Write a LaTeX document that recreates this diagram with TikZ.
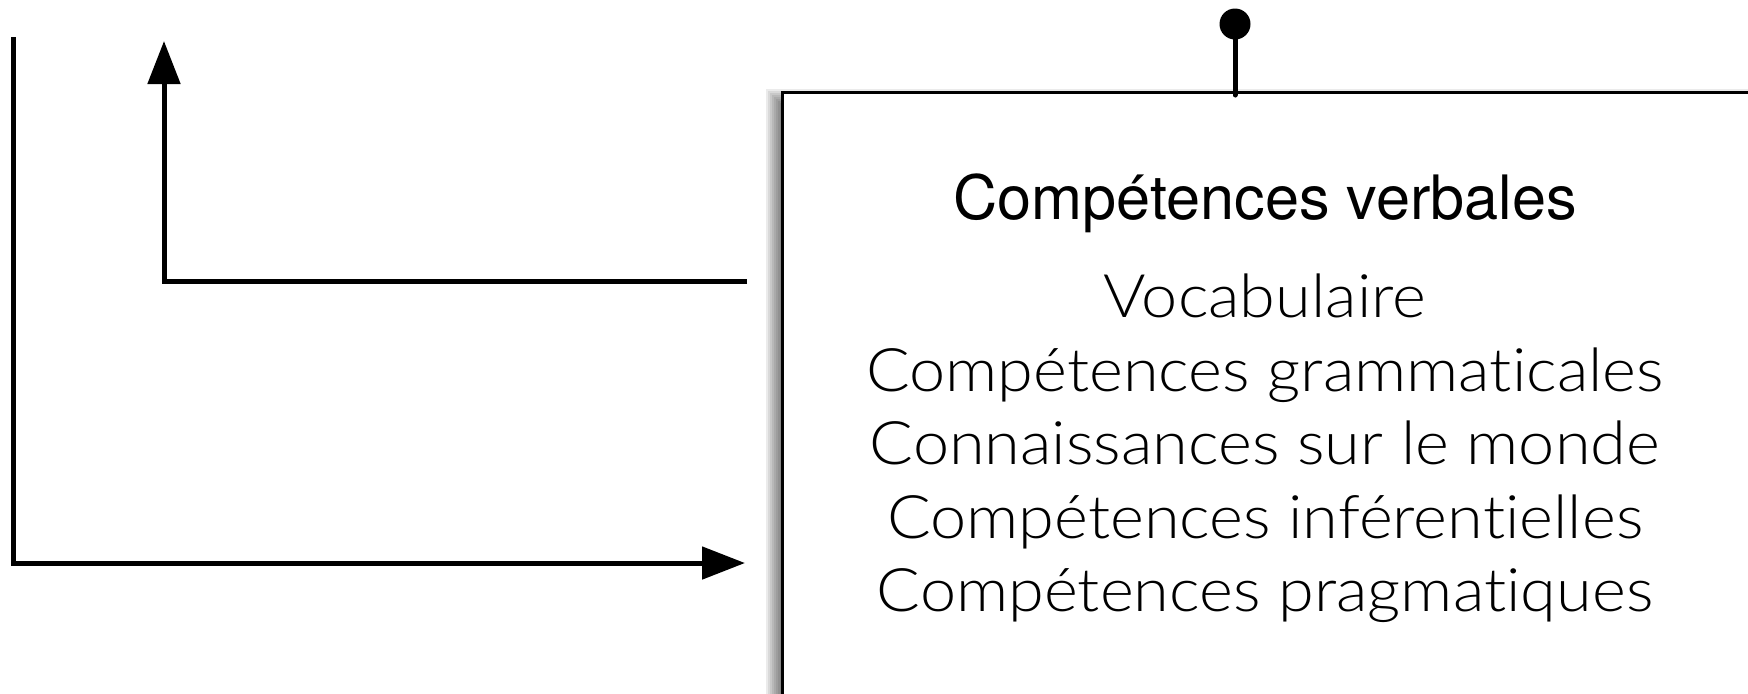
\documentclass[tikz,border=0pt]{standalone}
\usepackage{fontspec}
\setmainfont{TeX Gyre Heros}
\newfontfamily\lightfont{Lato-Light.ttf}[Ligatures={NoCommon,NoRequired,NoContextual},FakeStretch=1.08]
\usetikzlibrary{arrows.meta}
\begin{document}
\begin{tikzpicture}[x=0.5pt,y=-0.5pt,
  axisline/.style={line width=2.5pt},
  bigtip/.style={-{Triangle[length=21.5pt,width=16pt]}},
  cardbox/.style={draw=black,line width=1.5pt,fill=white},
  titletext/.style={anchor=base,inner sep=0pt,font=\fontsize{30.6}{36}\selectfont},
  itemtext/.style={anchor=base,inner sep=0pt,font=\lightfont\fontsize{30}{36}\selectfont},
  pinhead/.style={circle,fill=black,inner sep=0pt,minimum size=15.5pt}]
\useasboundingbox (0,0) rectangle (1748,693);

% soft shadow behind the card
\foreach \e in {-7,-5,...,7}
  \fill[black,opacity=0.08] (773-\e,96-\e) rectangle (1800,760);

% the card
\node[cardbox,anchor=north west,minimum width=1100*0.5pt,minimum height=700*0.5pt,inner sep=0pt] (card) at (781,91) {};

% pin holding the card
\node[pinhead] (pin) at (1235,24) {};
\coordinate (pinfoot) at (1235,95);
\draw[line width=2.5pt,line cap=round] (pin.center) -- (pinfoot);

% axes
\coordinate (ytop) at (13,37);
\coordinate (origin) at (13,563);
\coordinate (xend) at (745,563);
\draw[axisline,bigtip] (ytop) -- (origin) -- (xend);

\coordinate (hstart) at (747,281);
\coordinate (elbow) at (164,281);
\coordinate (uptip) at (164,41);
\draw[axisline,bigtip] (hstart) -- (elbow) -- (uptip);

% text of the card
\node[titletext] (title) at (1265,219) {Compétences verbales};
\node[itemtext] (i1) at (1265,317) {Vocabulaire};
\node[itemtext] (i2) at (1265,391) {Compétences grammaticales};
\node[itemtext] (i3) at (1265,464) {Connaissances sur le monde};
\node[itemtext] (i4) at (1265,538) {Compétences inférentielles};
\node[itemtext] (i5) at (1265,611) {Compétences pragmatiques};
\end{tikzpicture}
\end{document}
